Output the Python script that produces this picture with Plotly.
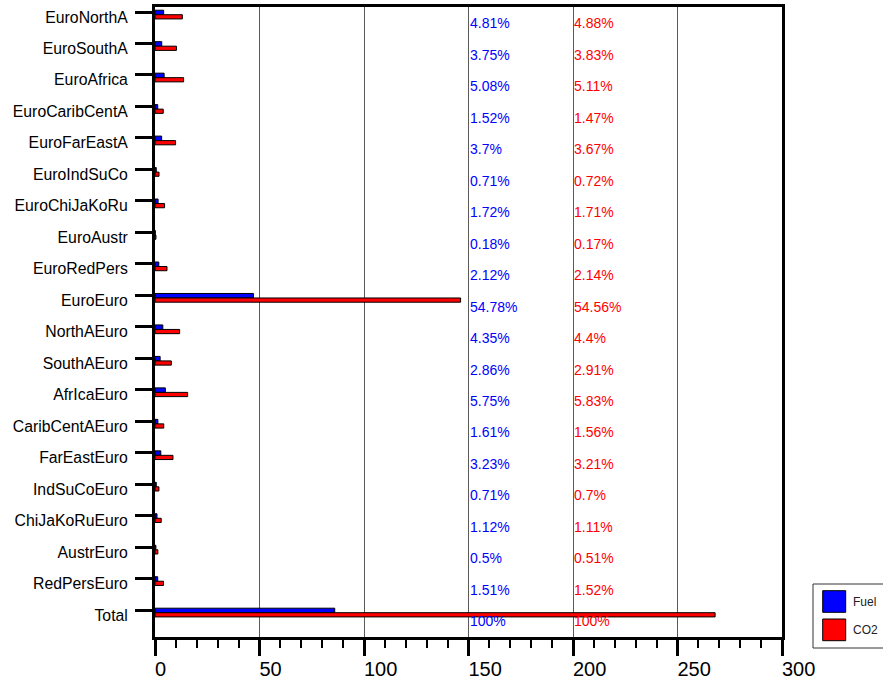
import plotly.graph_objects as go

categories = ["EuroNorthA", "EuroSouthA", "EuroAfrica", "EuroCaribCentA", "EuroFarEastA",
              "EuroIndSuCo", "EuroChiJaKoRu", "EuroAustr", "EuroRedPers", "EuroEuro",
              "NorthAEuro", "SouthAEuro", "AfrIcaEuro", "CaribCentAEuro", "FarEastEuro",
              "IndSuCoEuro", "ChiJaKoRuEuro", "AustrEuro", "RedPersEuro", "Total"]
fuel = [4.14, 3.23, 4.37, 1.31, 3.18, 0.61, 1.48, 0.15, 1.82, 47.11,
        3.74, 2.46, 4.95, 1.38, 2.78, 0.61, 0.96, 0.43, 1.30, 86.0]
co2 = [13.08, 10.26, 13.69, 3.94, 9.84, 1.93, 4.58, 0.46, 5.74, 146.22,
       11.79, 7.80, 15.62, 4.18, 8.60, 1.88, 2.97, 1.37, 4.07, 268.0]
fuel_pct = [4.81, 3.75, 5.08, 1.52, 3.7, 0.71, 1.72, 0.18, 2.12, 54.78,
            4.35, 2.86, 5.75, 1.61, 3.23, 0.71, 1.12, 0.5, 1.51, 100]
co2_pct = [4.88, 3.83, 5.11, 1.47, 3.67, 0.72, 1.71, 0.17, 2.14, 54.56,
           4.4, 2.91, 5.83, 1.56, 3.21, 0.7, 1.11, 0.51, 1.52, 100]
x_ticks = [0, 50, 100, 150, 200, 250, 300]
series_names = ["Fuel", "CO2"]
series_colors = ["#0000ff", "#ff0000"]

FONT = "Liberation Sans, Arial, Helvetica, sans-serif"

fig = go.Figure()
fig.add_trace(go.Bar(y=categories, x=fuel, orientation="h", name=series_names[0],
                     marker=dict(color=series_colors[0], line=dict(color="black", width=1)),
                     offset=-0.057, width=0.143, showlegend=False))
fig.add_trace(go.Bar(y=categories, x=co2, orientation="h", name=series_names[1],
                     marker=dict(color=series_colors[1], line=dict(color="black", width=1)),
                     offset=0.086, width=0.134, showlegend=False))

annotations = []
for i in range(len(categories)):
    annotations.append(dict(x=150, y=i + 0.36, xref="x", yref="y", text=f"{fuel_pct[i]:g}%",
                            showarrow=False, xanchor="left", yanchor="middle", borderpad=0,
                            font=dict(family=FONT, size=14, color=series_colors[0])))
    annotations.append(dict(x=200, y=i + 0.36, xref="x", yref="y", text=f"{co2_pct[i]:g}%",
                            showarrow=False, xanchor="left", yanchor="middle", borderpad=0,
                            font=dict(family=FONT, size=14, color=series_colors[1])))

# manual legend
L, T = 155, 7
W, H = 627, 630
def px(xp):
    return (xp - L) / W
def py(yp):
    return (T + H - yp) / H

shapes = [dict(type="rect", xref="paper", yref="paper", x0=px(813), x1=px(886), y0=py(648), y1=py(584),
               line=dict(color="#333", width=1), fillcolor="white", layer="above")]
sw_y = [(590.7, 612.3), (619, 640.7)]
for k in range(2):
    shapes.append(dict(type="rect", xref="paper", yref="paper", x0=px(822.7), x1=px(845.7),
                       y0=py(sw_y[k][1]), y1=py(sw_y[k][0]), fillcolor=series_colors[k],
                       line=dict(color="black", width=1), layer="above"))
    annotations.append(dict(x=px(851), y=py((sw_y[k][0] + sw_y[k][1]) / 2), xref="paper", yref="paper",
                            text=series_names[k], showarrow=False, xanchor="left", yanchor="middle",
                            font=dict(family=FONT, size=12, color="#222")))

fig.update_layout(
    width=883, height=679,
    margin=dict(l=L, r=883 - L - W, t=T, b=679 - T - H, autoexpand=False),
    paper_bgcolor="white", plot_bgcolor="white",
    barmode="overlay",
    annotations=annotations,
    shapes=shapes,
    xaxis=dict(range=[0, 300], tickvals=x_ticks, ticktext=[str(v) for v in x_ticks],
               automargin=False,
               ticks="outside", ticklen=16, tickwidth=3, tickcolor="black",
               ticklabelposition="outside right", ticklabelstandoff=12, ticklabelshift=-3,
               tickfont=dict(family=FONT, size=20, color="black"),
               showline=True, linecolor="black", linewidth=3, mirror=True,
               showgrid=True, gridcolor="#5a5a5a", gridwidth=1, zeroline=False,
               minor=dict(dtick=10, ticks="outside", ticklen=8, tickwidth=1.5, tickcolor="black", showgrid=False)),
    yaxis=dict(type="category", categoryorder="array", categoryarray=categories,
               range=[19.858, -0.159], automargin=False,
               ticks="outside", ticklen=17, tickwidth=3, tickcolor="black",
               tickfont=dict(family=FONT, size=15.8, color="black"),
               ticklabelshift=-5, ticklabelstandoff=4,
               showline=True, linecolor="black", linewidth=3, mirror=True,
               showgrid=False, zeroline=False),
)

fig.write_html("out.html")
